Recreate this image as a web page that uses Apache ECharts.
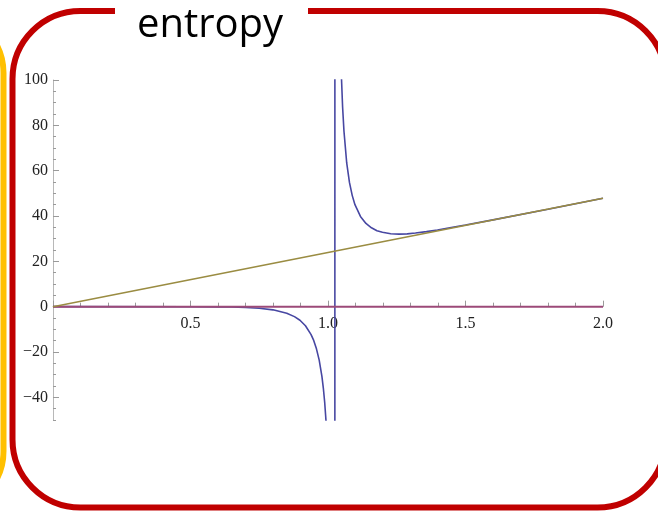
<!DOCTYPE html>
<html>
<head>
<meta charset="utf-8">
<script src="https://cdn.jsdelivr.net/npm/echarts@6/dist/echarts.min.js"></script>
<style>
  html, body { margin: 0; padding: 0; background: #ffffff; }
  #chart { width: 658px; height: 516px; }
</style>
</head>
<body>
<div id="chart"></div>
<script>
// Entropy curve with a pole near x ≈ 1.025: below the pole it dips to −∞,
// above it comes down from +∞, bottoms out near 32 and rejoins the straight line.
const entropyCurve = [
  [0, 0], [0.5, -0.02], [0.6, -0.09], [0.65, -0.17], [0.7, -0.35], [0.75, -0.68],
  [0.8, -1.4], [0.85, -2.9], [0.878, -4.4], [0.898, -6.0], [0.918, -8.4],
  [0.938, -12.2], [0.948, -14.9], [0.958, -18.6], [0.968, -23.6], [0.978, -30.9],
  [0.983, -35.9], [0.988, -42.3], [0.993, -50.8], [0.998, -62.4],
  [1.024, -2040], [1.026, 2060],
  [1.033, 270], [1.038, 172], [1.043, 128.5], [1.048, 104], [1.053, 88.3],
  [1.058, 77.5], [1.068, 63.4], [1.078, 54.8], [1.088, 49.1], [1.098, 45.0],
  [1.118, 39.8], [1.138, 36.7], [1.158, 34.8], [1.178, 33.5], [1.198, 32.8],
  [1.228, 32.2], [1.258, 32.0], [1.288, 32.1], [1.318, 32.5], [1.358, 33.1],
  [1.398, 33.85], [1.448, 34.9], [1.5, 36.0], [1.6, 38.3], [1.8, 43.0], [2.0, 47.8]
];
// Horizontal reference at zero
const zeroLine = [[0, 0], [2, 0]];
// Straight asymptotic line
const linearLine = [[0, 0], [2, 47.8]];

// Axis ranges and labels
const xRange = [0, 2];
const yRange = [-50, 100];
const yLabelValues = [-40, -20, 0, 20, 40, 60, 80, 100];

const titleText = 'entropy';

const gridTop = 80;
const gridBottom = 96;
const gridHeight = 516 - gridTop - gridBottom;
// Lift the x axis from the grid bottom up to the y = 0 level
const xAxisOffset = -gridHeight * (0 - yRange[0]) / (yRange[1] - yRange[0]);

const fmtY = v => (v < 0 ? '\u2212' + Math.abs(v) : String(v));
const axisGrey = '#b8b8b8';
const labelFont = { fontFamily: 'Liberation Serif', fontSize: 16, color: '#222' };

const chart = echarts.init(document.getElementById('chart'), null, { renderer: 'canvas' });

chart.setOption({
  animation: false,
  backgroundColor: '#ffffff',
  grid: { left: 53, right: 55, top: gridTop, bottom: gridBottom, containLabel: false },
  xAxis: {
    type: 'value',
    min: xRange[0],
    max: xRange[1],
    interval: 0.5,
    position: 'bottom',
    offset: xAxisOffset,
    axisLine: { show: true, onZero: false, lineStyle: { color: axisGrey, width: 1 } },
    axisTick: { show: true, inside: true, length: 6, lineStyle: { color: '#9a9a9a' } },
    minorTick: { show: true, splitNumber: 5, length: 4, lineStyle: { color: '#9a9a9a' } },
    axisLabel: Object.assign({
      margin: 9,
      formatter: v => (v === 0 ? '' : v.toFixed(1))
    }, labelFont),
    splitLine: { show: false },
    minorSplitLine: { show: false }
  },
  yAxis: [
    {
      type: 'value',
      min: yRange[0],
      max: yRange[1],
      interval: 5,
      position: 'left',
      axisLine: { show: true, onZero: false, lineStyle: { color: axisGrey, width: 1 } },
      axisTick: { show: true, inside: true, length: 3, lineStyle: { color: '#9a9a9a' } },
      axisLabel: Object.assign({
        margin: 5,
        customValues: yLabelValues,
        formatter: fmtY
      }, labelFont),
      splitLine: { show: false }
    },
    {
      type: 'value',
      min: yRange[0],
      max: yRange[1],
      interval: 5,
      position: 'left',
      axisLine: { show: false, onZero: false },
      axisTick: { show: true, inside: true, length: 6, customValues: yLabelValues, lineStyle: { color: '#9a9a9a' } },
      axisLabel: { show: false },
      splitLine: { show: false }
    }
  ],
  series: [
    {
      type: 'line',
      data: entropyCurve,
      showSymbol: false,
      symbol: 'none',
      clip: true,
      z: 2,
      lineStyle: { color: '#4747a2', width: 1.6 }
    },
    {
      type: 'line',
      data: zeroLine,
      showSymbol: false,
      symbol: 'none',
      clip: true,
      z: 3,
      lineStyle: { color: '#9c4a78', width: 2 }
    },
    {
      type: 'line',
      data: linearLine,
      showSymbol: false,
      symbol: 'none',
      clip: true,
      z: 4,
      lineStyle: { color: '#9a8c42', width: 1.6 }
    }
  ],
  graphic: [
    {
      type: 'rect',
      silent: true,
      shape: { x: -300, y: 13, width: 303.5, height: 498, r: 60 },
      style: { fill: 'none', stroke: '#ffc000', lineWidth: 6 }
    },
    {
      type: 'rect',
      silent: true,
      shape: { x: 12.5, y: 11, width: 653, height: 496.5, r: 68 },
      style: { fill: 'none', stroke: '#c00000', lineWidth: 6 }
    },
    {
      type: 'rect',
      silent: true,
      shape: { x: 115, y: 4, width: 193, height: 14 },
      style: { fill: '#ffffff' }
    },
    {
      type: 'text',
      silent: true,
      x: 210,
      y: 26,
      style: {
        text: titleText,
        font: '40px "Open Sans"',
        fill: '#000000',
        align: 'center',
        verticalAlign: 'middle'
      }
    }
  ]
});
</script>
</body>
</html>
